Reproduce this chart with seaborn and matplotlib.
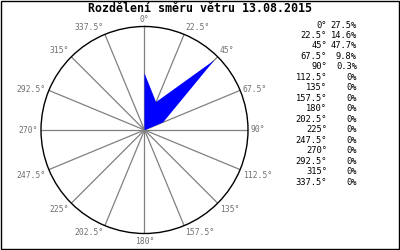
import numpy as np
import matplotlib
matplotlib.use("Agg")
import matplotlib.pyplot as plt
from matplotlib.patches import Rectangle
import seaborn as sns

# ---- data ----
directions = [0, 22.5, 45, 67.5, 90, 112.5, 135, 157.5,
              180, 202.5, 225, 247.5, 270, 292.5, 315, 337.5]
shares = [27.5, 14.6, 47.7, 9.8, 0.3, 0, 0, 0,
          0, 0, 0, 0, 0, 0, 0, 0]
title = "Rozdělení směru větru 13.08.2015"
r_max = 50

sns.set_style("white")
plt.rcParams['font.family'] = ['DejaVu Sans Mono', 'DejaVu Sans']

W, H = 400, 250
fig = plt.figure(figsize=(W / 100, H / 100), dpi=100)
fig.patch.set_facecolor("white")

cx, cy, R = 144.5, 120.0, 103.5   # centre (from bottom) and radius in px
ax = fig.add_axes([(cx - R) / W, (cy - R) / H, 2 * R / W, 2 * R / H],
                  projection="polar")
ax.set_theta_zero_location("N")
ax.set_theta_direction(-1)
ax.set_facecolor("white")

theta = np.deg2rad(directions)

# spokes
ax.vlines(theta, 0, r_max, colors="#808080", linewidth=0.9, zorder=1)

# wind rose polygon
tc = np.append(theta, theta[0])
rc = np.append(shares, shares[0])
ax.fill(tc, rc, color="#0000ff", linewidth=0, zorder=2)

ax.set_ylim(0, r_max)
ax.set_xticks([])
ax.set_yticks([])
ax.grid(False)
ax.spines["polar"].set_color("black")
ax.spines["polar"].set_linewidth(1.0)

# direction labels
for d, t in zip(directions, theta):
    s, c = np.sin(t), np.cos(t)
    ha = "left" if s > 0.1 else ("right" if s < -0.1 else "center")
    va = "bottom" if c > 0.5 else ("center" if c > -0.1 else "top")
    ax.annotate(f"{d:g}°", xy=(t, r_max), xytext=(3 * s, 3 * c),
                textcoords="offset pixels", ha=ha, va=va,
                fontsize=5.8, color="#707070", annotation_clip=False)

# title
fig.text(200 / W, 1 - 9 / H, title, ha="center", va="center",
         fontsize=8.4, fontweight="bold", color="black")

# table on the right
y0, dy = 25.0, 10.47
for i, (d, v) in enumerate(zip(directions, shares)):
    y = 1 - (y0 + i * dy) / H
    fig.text(327 / W, y, f"{d:g}°", ha="right", va="center",
             fontsize=6.3, color="black")
    fig.text(357 / W, y, f"{v:g}%", ha="right", va="center",
             fontsize=6.3, color="black")

# outer frame
fig.patches.append(Rectangle((0.5 / W, 1.5 / H), 398 / W, 248 / H,
                             transform=fig.transFigure, fill=False,
                             edgecolor="black", linewidth=1.0))

fig.savefig("out.png", dpi=100, facecolor="white")
